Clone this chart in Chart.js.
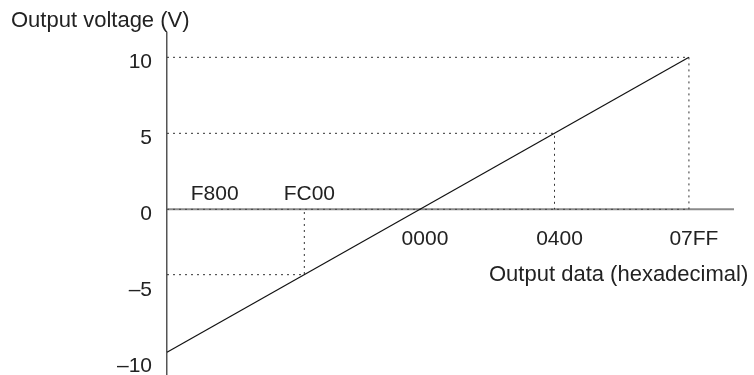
<!DOCTYPE html>
<html lang="en">
<head>
<meta charset="UTF-8">
<title>Output voltage vs output data</title>
<script src="https://cdn.jsdelivr.net/npm/chart.js"></script>
<style>
  body { margin: 0; background: #fff; }
</style>
</head>
<body>
<canvas id="dacChart" width="754" height="375"></canvas>
<script>
// x = output data as signed decimal (0x0400 = 1024, 0x07FF = 2047, 0xFC00 = -1024)
const lineX = [-1925, 2047];
const lineY = [-9.4, 10];

const yTicks = [-10, -5, 0, 5, 10];
const yTickLabels = ['–10', '–5', '0', '5', '10'];

const hexLabels = ['F800', 'FC00', '0000', '0400', '07FF'];
const hexX = [-1600, -880, 0, 1024, 2047];
const hexAbove = [true, true, false, false, false];

// dotted guides: from the y axis across to (guideX, guideY), then down to 0
const guideX = [2047, 1024, -880];
const guideY = [10, 5, -4.3];

const xMin = -1925, xMax = 2390;
const yMin = -10.9, yMax = 11.6;

const FONT = '"Liberation Sans", Arial, sans-serif';

const textPlugin = {
  id: 'texts',
  afterDraw(chart) {
    const { ctx, scales: { x, y } } = chart;
    ctx.save();
    ctx.fillStyle = '#222';
    ctx.font = '21px ' + FONT;
    ctx.textAlign = 'center';
    hexLabels.forEach((t, i) => {
      const px = x.getPixelForValue(hexX[i]) + 5;
      const py = y.getPixelForValue(0) + (hexAbove[i] ? -9 : 36);
      ctx.fillText(t, px, py);
    });
    ctx.font = '22px ' + FONT;
    ctx.textAlign = 'left';
    ctx.fillText('Output voltage (V)', 11, 27);
    ctx.fillText('Output data (hexadecimal)', 489, 281);
    ctx.restore();
  }
};

const datasets = [{
  data: lineX.map((v, i) => ({ x: v, y: lineY[i] })),
  borderColor: '#111',
  borderWidth: 1.2,
  order: 0
}];

guideX.forEach((gx, i) => {
  datasets.push({
    data: [{ x: xMin, y: guideY[i] }, { x: gx, y: guideY[i] }, { x: gx, y: 0 }],
    borderColor: '#333',
    borderWidth: 1,
    borderDash: [2, 4],
    order: 2
  });
});

// the zero line: grey solid with a dotted overlay up to 07FF
datasets.push({
  data: [{ x: xMin, y: 0 }, { x: 2047, y: 0 }],
  borderColor: '#444',
  borderWidth: 1,
  borderDash: [2, 4],
  order: 2
});
datasets.push({
  data: [{ x: xMin, y: 0 }, { x: xMax, y: 0 }],
  borderColor: '#8a8a8a',
  borderWidth: 2,
  order: 3
});

new Chart(document.getElementById('dacChart'), {
  type: 'scatter',
  data: { datasets: datasets },
  options: {
    responsive: false,
    animation: false,
    events: [],
    showLine: true,
    layout: { padding: { top: 33, right: 20, bottom: 0, left: 0 } },
    elements: { point: { radius: 0 }, line: { tension: 0 } },
    datasets: { scatter: { clip: false } },
    plugins: { legend: { display: false }, tooltip: { enabled: false } },
    scales: {
      x: { type: 'linear', min: xMin, max: xMax, display: false },
      y: {
        type: 'linear',
        min: yMin,
        max: yMax,
        grid: { display: false },
        border: { display: true, color: '#555', width: 1.5 },
        ticks: {
          color: '#222',
          font: { size: 21, family: FONT },
          padding: 7,
          labelOffset: 5,
          callback: (v) => yTickLabels[yTicks.indexOf(v)]
        },
        afterBuildTicks: (s) => { s.ticks = yTicks.map(v => ({ value: v })); },
        afterFit: (s) => { s.width = 167; s.paddingTop = 0; s.paddingBottom = 0; }
      }
    }
  },
  plugins: [textPlugin]
});
</script>
</body>
</html>
